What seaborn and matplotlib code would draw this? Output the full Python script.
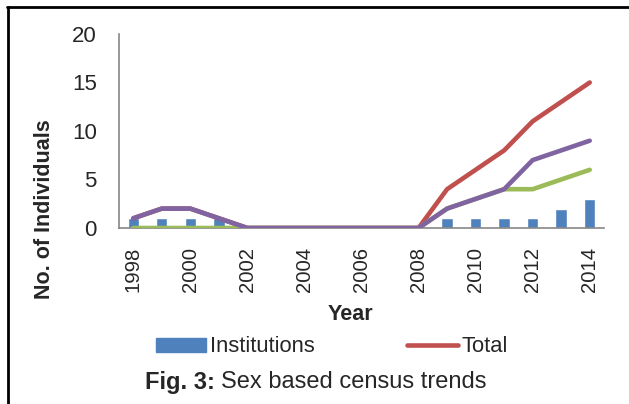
import matplotlib
matplotlib.use("Agg")
import matplotlib.pyplot as plt
from matplotlib.patches import Patch
from matplotlib.lines import Line2D
import seaborn as sns
import pandas as pd
import numpy as np

years = list(range(1998, 2015))
institutions = [1, 1, 1, 1, 0, 0, 0, 0, 0, 0, 0, 1, 1, 1, 1, 2, 3]
total = [1, 2, 2, 1, 0, 0, 0, 0, 0, 0, 0, 4, 6, 8, 11, 13, 15]
male = [0, 0, 0, 0, 0, 0, 0, 0, 0, 0, 0, 2, 3, 4, 4, 5, 6]
female = [1, 2, 2, 1, 0, 0, 0, 0, 0, 0, 0, 2, 3, 4, 7, 8, 9]
tick_years = list(range(1998, 2015, 2))

BLUE = "#4F81BD"
RED = "#C0504D"
GREEN = "#9BBB59"
PURPLE = "#8064A2"
GRAY = "#868686"
REG = ["Liberation Sans"]

sns.set_style("white")
plt.rcParams["font.family"] = REG

df = pd.DataFrame({"Year": years, "Institutions": institutions, "Total": total,
                   "Male": male, "Female": female})

W, H = 629, 404
fig = plt.figure(figsize=(W / 100, H / 100), dpi=100)
ax = fig.add_axes([119 / W, 1 - 228 / H, (604 - 119) / W, (228 - 34) / H])

sns.barplot(data=df, x="Year", y="Institutions", native_scale=True, color=BLUE,
            width=0.4, ax=ax, saturation=1, zorder=2)
for col, c in [("Total", RED), ("Male", GREEN), ("Female", PURPLE)]:
    sns.lineplot(data=df, x="Year", y=col, color=c, linewidth=3.3, ax=ax,
                 solid_capstyle="round", zorder=3)

ax.set_xlim(1997.5, 2014.5)
ax.set_ylim(0, 20)
ax.set_yticks([0, 5, 10, 15, 20])
ax.set_xticks(tick_years)
ax.set_xticks(np.arange(1997.5, 2015, 1), minor=True)
ax.tick_params(axis="x", which="major", length=0, pad=13.5, labelrotation=90,
               labelsize=14.6)
ax.tick_params(axis="x", which="minor", length=5, width=1, color=GRAY, direction="out")
ax.tick_params(axis="y", which="major", length=5, width=1, color=GRAY, direction="out",
               pad=11, labelsize=16)

for s in ["top", "right"]:
    ax.spines[s].set_visible(False)
for s in ["left", "bottom"]:
    ax.spines[s].set_color(GRAY)
    ax.spines[s].set_linewidth(1.2)

ax.set_ylabel("No. of Individuals", fontsize=15.5, fontweight="bold",
              rotation=90, ha="center", va="center")
ax.yaxis.set_label_coords((45 - 119) / 485, (228 - 209) / 194)
ax.set_xlabel("Year", fontsize=15.5, fontweight="bold", ha="center", va="center")
ax.xaxis.set_label_coords((350 - 119) / 485, (228 - 315) / 194)

handles = [Patch(facecolor=BLUE, edgecolor=BLUE),
           Line2D([0], [0], color=RED, linewidth=3.3, solid_capstyle="round")]
fig.legend(handles, ["Institutions", "Total"], ncol=2, loc="center left",
           bbox_to_anchor=(145 / W, 1 - 347 / H), frameon=False, borderpad=0,
           handlelength=2.3, handleheight=0.64, handletextpad=0.18,
           columnspacing=4.2, prop={"size": 15.8})

t1 = fig.text(145 / W, 1 - 382 / H, "Fig. 3:", fontsize=17, fontweight="bold",
              ha="left", va="center")
r = fig.canvas.get_renderer()
bb = t1.get_window_extent(renderer=r)
fig.text((bb.x1 + 6) / W, 1 - 382 / H, "Sex based census trends", fontsize=17,
         ha="left", va="center")

fig.add_artist(Line2D([7 / W, 1.0], [1 - 7 / H, 1 - 7 / H], color="black",
                      linewidth=2, transform=fig.transFigure))
fig.add_artist(Line2D([8 / W, 8 / W], [1 - 7 / H, 0], color="black",
                      linewidth=2, transform=fig.transFigure))

fig.savefig("out.png", dpi=100)
